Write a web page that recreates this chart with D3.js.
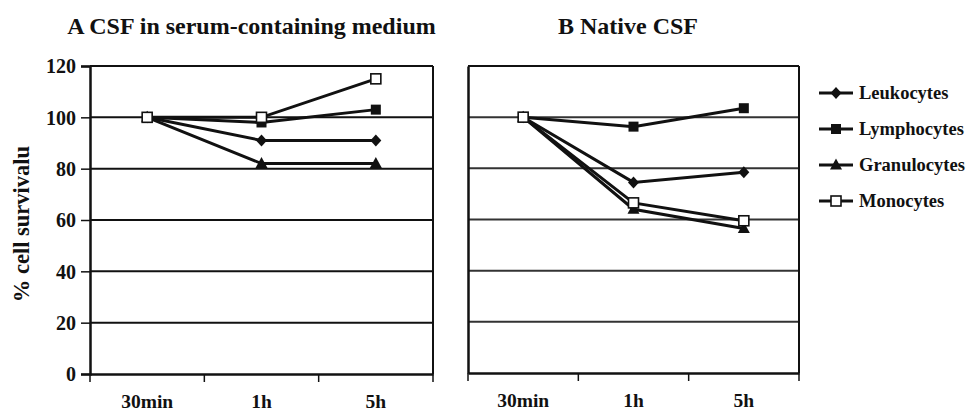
<!DOCTYPE html>
<html><head><meta charset="utf-8">
<script src="https://cdn.jsdelivr.net/npm/d3@7"></script>
<style>body{margin:0;background:#fff}svg{display:block}text{font-family:"Liberation Serif","Times New Roman",serif;font-weight:bold;fill:#111}</style>
</head><body>
<svg id="c" width="971" height="411"></svg>
<script>
const categories = ["30min", "1h", "5h"];
const seriesNames = ["Leukocytes", "Lymphocytes", "Granulocytes", "Monocytes"];
const markers = ["diamond", "square", "triangle", "open"];
const panelATitle = "A CSF in serum-containing medium";
const panelBTitle = "B Native CSF";
const yTicks = [0, 20, 40, 60, 80, 100, 120];
const yTitle = "% cell survivalu";
const panelA = {
  Leukocytes: [100, 91, 91],
  Lymphocytes: [100, 98, 103],
  Granulocytes: [100, 82, 82],
  Monocytes: [100, 100, 115]
};
const panelB = {
  Leukocytes: [100, 74.5, 78.5],
  Lymphocytes: [100, 96.3, 103.5],
  Granulocytes: [100, 64, 56.5],
  Monocytes: [100, 66.5, 59.5]
};

const svg = d3.select("#c");
const FONT = '"Liberation Serif","Times New Roman",serif';

function marker(g, type, x, y) {
  if (type === "diamond") {
    g.append("path").attr("d", `M${x},${y-6}L${x+5.5},${y}L${x},${y+6}L${x-5.5},${y}Z`).attr("fill", "#111");
  } else if (type === "square") {
    g.append("rect").attr("x", x - 5).attr("y", y - 5).attr("width", 10).attr("height", 10).attr("fill", "#111");
  } else if (type === "triangle") {
    g.append("path").attr("d", `M${x},${y-6.5}L${x+6},${y+4.5}L${x-6},${y+4.5}Z`).attr("fill", "#111");
  } else {
    g.append("rect").attr("x", x - 5).attr("y", y - 5).attr("width", 10).attr("height", 10).attr("fill", "#fff").attr("stroke", "#111").attr("stroke-width", 1.6);
  }
}

function panel(data, x0, x1, yTop, yBot, title, titleX, showLabels, gridColor) {
  const x = d3.scaleBand().domain(categories).range([x0, x1]);
  const y = d3.scaleLinear().domain([0, 120]).range([yBot, yTop]);
  const g = svg.append("g");
  g.selectAll(".grid").data(yTicks.filter(t => t > 0 && t < 120)).join("line")
    .attr("x1", x0).attr("x2", x1).attr("y1", d => y(d)).attr("y2", d => y(d))
    .attr("stroke", gridColor).attr("stroke-width", 2);
  g.append("line").attr("x1", x0).attr("x2", x1).attr("y1", yTop).attr("y2", yTop).attr("stroke", "#111").attr("stroke-width", 2);
  g.append("line").attr("x1", x1).attr("x2", x1).attr("y1", yTop).attr("y2", yBot).attr("stroke", "#111").attr("stroke-width", 2);
  const ya = g.append("g").attr("transform", `translate(${x0},0)`)
    .call(d3.axisLeft(y).tickValues(yTicks).tickSize(showLabels ? 9 : 0).tickPadding(5));
  ya.select(".domain").attr("stroke", "#111").attr("stroke-width", 2.5);
  ya.selectAll(".tick line").attr("stroke", "#111").attr("stroke-width", 1.5);
  ya.selectAll(".tick text").attr("font-size", 20).attr("dy", "0.34em").style("font-family", FONT).style("font-weight", "bold").attr("fill", "#111")
    .style("display", showLabels ? null : "none");
  const xa = g.append("g").attr("transform", `translate(0,${yBot})`)
    .call(d3.axisBottom(x).tickSize(0).tickPadding(20));
  xa.select(".domain").attr("stroke", "#111").attr("stroke-width", 2.5);
  xa.selectAll(".tick text").attr("font-size", 19.5).style("font-family", FONT).style("font-weight", "bold").attr("fill", "#111");
  const edges = categories.map(c => x(c)).concat([x1]);
  g.selectAll(".bt").data(edges).join("line")
    .attr("x1", d => d).attr("x2", d => d).attr("y1", yBot).attr("y2", yBot + 8)
    .attr("stroke", "#111").attr("stroke-width", 1.5);
  g.append("text").attr("x", titleX).attr("y", 33.5).attr("text-anchor", "middle")
    .attr("font-size", 24).text(title);
  const line = d3.line().x((d, i) => x(categories[i]) + x.bandwidth() / 2).y(d => y(d));
  seriesNames.forEach((s, si) => {
    g.append("path").attr("d", line(data[s])).attr("fill", "none").attr("stroke", "#111").attr("stroke-width", 3);
    data[s].forEach((v, i) => marker(g, markers[si], x(categories[i]) + x.bandwidth() / 2, y(v)));
  });
}

panel(panelA, 90, 433, 66, 374, panelATitle, 251.5, true, "#111");
panel(panelB, 468, 799, 66, 373, panelBTitle, 628, false, "#333");

svg.append("text").attr("transform", "translate(29,224) rotate(-90)").attr("text-anchor", "middle")
  .attr("font-size", 22.5).text(yTitle);

const lg = svg.append("g");
seriesNames.forEach((s, i) => {
  const yy = 93 + i * 36;
  lg.append("line").attr("x1", 819).attr("x2", 853).attr("y1", yy).attr("y2", yy).attr("stroke", "#111").attr("stroke-width", 3);
  marker(lg, markers[i], 836, yy);
  lg.append("text").attr("x", 859).attr("y", yy + 6).attr("font-size", 18.5).text(s);
});
</script>
</body></html>
